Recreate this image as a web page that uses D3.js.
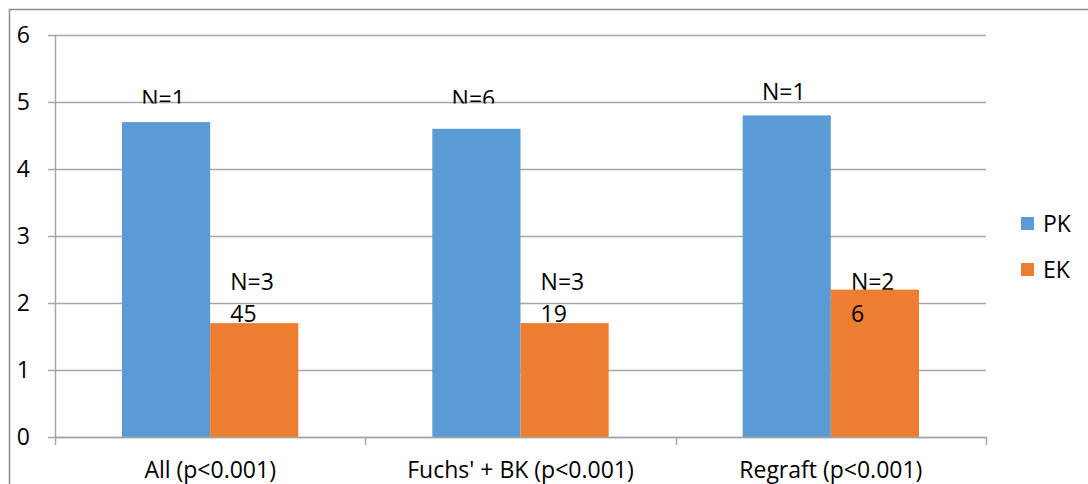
<!DOCTYPE html>
<html>
<head>
<meta charset="utf-8">
<script src="https://cdn.jsdelivr.net/npm/d3@7"></script>
<style>
  html, body { margin: 0; padding: 0; background: #fff; }
  svg { display: block; font-family: "Open Sans", sans-serif; }
</style>
</head>
<body>
<svg id="chart" width="1088" height="484"></svg>
<script>
// Chart data
const categories = ["All (p<0.001)", "Fuchs' + BK (p<0.001)", "Regraft (p<0.001)"];
const seriesNames = ["PK", "EK"];
const pkValues = [4.7, 4.6, 4.8];
const ekValues = [1.7, 1.7, 2.2];
const pkLabels = ["N=1", "N=6", "N=1"];
const ekLabels = [["N=3", "45"], ["N=3", "19"], ["N=2", "6"]];
const yTicks = [0, 1, 2, 3, 4, 5, 6];
const colors = { PK: "#5b9bd5", EK: "#ed7d31" };

const rows = categories.map((c, i) => ({ cat: c, PK: pkValues[i], EK: ekValues[i] }));

const svg = d3.select("#chart");
const fontSize = 23;

// Outer chart frame
svg.append("rect")
  .attr("x", 9.5).attr("y", 9.5)
  .attr("width", 1100).attr("height", 500)
  .attr("fill", "none").attr("stroke", "#8c8c8c").attr("stroke-width", 1.5);

const plot = { left: 55, right: 986, top: 35, bottom: 437 };

const y = d3.scaleLinear().domain([0, 6]).range([plot.bottom, plot.top]);
const x0 = d3.scaleBand().domain(categories).range([plot.left, plot.right]).paddingInner(0).paddingOuter(0);
const x1 = d3.scaleBand().domain(seriesNames).range([0, x0.bandwidth()]).paddingInner(0).paddingOuter(0.76);

// Horizontal gridlines with short ticks left of the axis
svg.append("g")
  .selectAll("line")
  .data(yTicks)
  .join("line")
  .attr("x1", plot.left - 7).attr("x2", plot.right)
  .attr("y1", d => Math.round(y(d)) + 0.5).attr("y2", d => Math.round(y(d)) + 0.5)
  .attr("stroke", "#a6a6a6").attr("stroke-width", 1.5);

// Y axis line
svg.append("line")
  .attr("x1", plot.left + 0.5).attr("x2", plot.left + 0.5)
  .attr("y1", plot.top).attr("y2", plot.bottom)
  .attr("stroke", "#a6a6a6").attr("stroke-width", 1.5);

// Y tick labels
svg.append("g")
  .selectAll("text")
  .data(yTicks)
  .join("text")
  .attr("x", 30).attr("y", d => y(d))
  .attr("dy", "0.35em")
  .attr("text-anchor", "end")
  .attr("font-size", fontSize)
  .attr("fill", "#000")
  .text(d => d);

// X category tick marks
const xTickPos = categories.map(c => x0(c)).concat([x0(categories[categories.length - 1]) + x0.bandwidth()]);
svg.append("g")
  .selectAll("line")
  .data(xTickPos)
  .join("line")
  .attr("x1", d => Math.round(d) + 0.5).attr("x2", d => Math.round(d) + 0.5)
  .attr("y1", plot.bottom).attr("y2", plot.bottom + 8)
  .attr("stroke", "#a6a6a6").attr("stroke-width", 1.5);

// Clip for the PK labels: their lower part is hidden below the value-5 gridline
const defs = svg.append("defs");
defs.append("clipPath").attr("id", "pkClip")
  .append("rect")
  .attr("x", 0).attr("y", 0).attr("width", 1088).attr("height", y(5) + 1.5);

// PK labels (drawn under the bars); lower bars share the same label row
svg.append("g").attr("clip-path", "url(#pkClip)")
  .selectAll("text")
  .data(rows)
  .join("text")
  .attr("x", d => x0(d.cat) + x1("PK") + x1.bandwidth() / 2 - 3)
  .attr("y", d => Math.min(y(d.PK), y(4.7)) - 15)
  .attr("text-anchor", "middle")
  .attr("font-size", fontSize)
  .attr("fill", "#000")
  .text((d, i) => pkLabels[i]);

// EK labels: first line sits behind the bars
const ekLabelBase = y(1.7) - 1;
svg.append("g")
  .selectAll("text")
  .data(rows)
  .join("text")
  .attr("x", d => x0(d.cat) + x1("EK") + x1.bandwidth() / 2 - 24)
  .attr("y", ekLabelBase - 32)
  .attr("font-size", fontSize)
  .attr("fill", "#000")
  .text((d, i) => ekLabels[i][0]);

// Bars
const groups = svg.append("g")
  .selectAll("g")
  .data(rows)
  .join("g")
  .attr("transform", d => `translate(${x0(d.cat)},0)`);

groups.selectAll("rect")
  .data(d => seriesNames.map(k => ({ key: k, value: d[k] })))
  .join("rect")
  .attr("x", d => x1(d.key))
  .attr("y", d => y(d.value))
  .attr("width", x1.bandwidth())
  .attr("height", d => y(0) - y(d.value))
  .attr("fill", d => colors[d.key]);

// EK labels: second line on top of the bars
svg.append("g")
  .selectAll("text")
  .data(rows)
  .join("text")
  .attr("x", d => x0(d.cat) + x1("EK") + x1.bandwidth() / 2 - 24)
  .attr("y", ekLabelBase)
  .attr("font-size", fontSize)
  .attr("fill", "#000")
  .text((d, i) => ekLabels[i][1]);

// X axis baseline
svg.append("line")
  .attr("x1", plot.left).attr("x2", plot.right + 1)
  .attr("y1", plot.bottom + 0.5).attr("y2", plot.bottom + 0.5)
  .attr("stroke", "#a6a6a6").attr("stroke-width", 1.5);

// Category labels
svg.append("g")
  .selectAll("text")
  .data(categories)
  .join("text")
  .attr("x", d => x0(d) + x0.bandwidth() / 2)
  .attr("y", 478)
  .attr("text-anchor", "middle")
  .attr("font-size", fontSize)
  .attr("fill", "#000")
  .text(d => d);

// Legend
const legend = svg.append("g")
  .selectAll("g")
  .data(seriesNames)
  .join("g")
  .attr("transform", (d, i) => `translate(1021,${217 + i * 46})`);
legend.append("rect")
  .attr("width", 13).attr("height", 13)
  .attr("fill", d => colors[d]);
legend.append("text")
  .attr("x", 22).attr("y", 15)
  .attr("font-size", fontSize)
  .attr("fill", "#000")
  .text(d => d);
</script>
</body>
</html>
